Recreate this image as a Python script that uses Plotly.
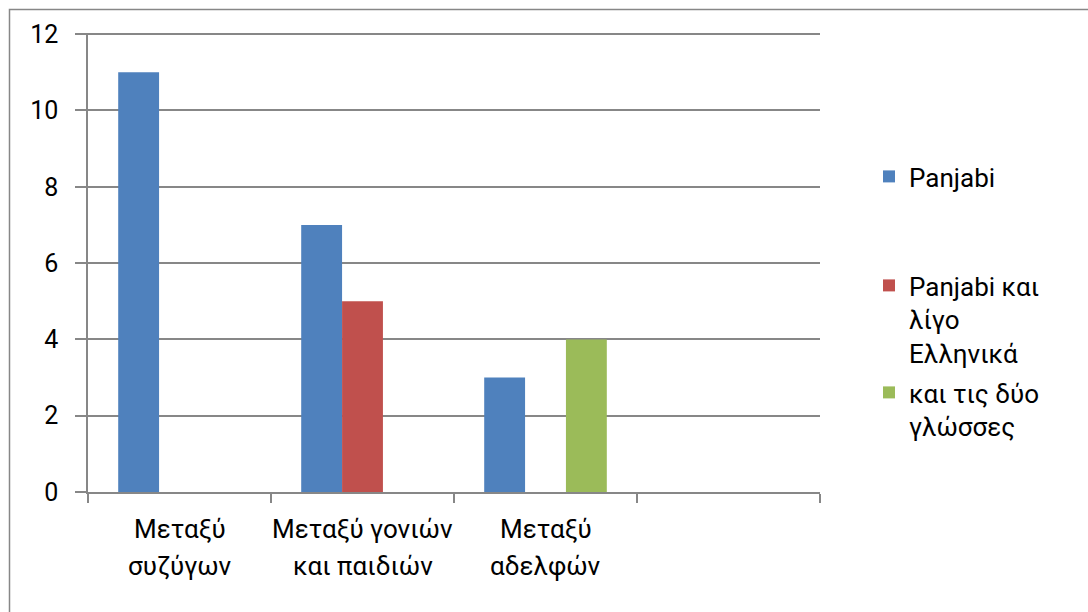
import plotly.graph_objects as go

# Category labels (two lines each); the fourth category is left blank
cat_line1 = ["Μεταξύ", "Μεταξύ γονιών", "Μεταξύ", ""]
cat_line2 = ["συζύγων", "και παιδιών", "αδελφών", ""]
cat_pos = [0, 1, 2, 3]

series_names = ["Panjabi", "Panjabi και<br>λίγο<br>Ελληνικά", "και τις δύο<br>γλώσσες"]
panjabi = [11, 7, 3, None]
panjabi_ligo_ellinika = [None, 5, None, None]
kai_oi_dyo = [None, None, 4, None]

colors = ["#4F81BD", "#C0504D", "#9BBB59"]
grid = "#878787"
FONT = "Roboto"
FS = 26

# plot area in pixels: x 88..820, y 33..492 on a 1088x612 canvas
L, R, T, B = 88, 268, 33, 120
W, H = 1088 - L - R, 612 - T - B


def px_x(px):
    return (px - L) / W


def px_y(py):
    return (612 - B - py) / H


fig = go.Figure()
for name, vals, col, lg in zip(series_names,
                               [panjabi, panjabi_ligo_ellinika, kai_oi_dyo],
                               colors, ["legend", "legend2", "legend3"]):
    fig.add_trace(go.Bar(x=cat_pos, y=vals, name=name, marker_color=col,
                         marker_line_width=0, legend=lg))

legend_common = dict(font=dict(family=FONT, size=FS, color="#000000"),
                     bgcolor="rgba(0,0,0,0)", itemwidth=30, valign="top",
                     xanchor="left", yanchor="top", itemclick=False)

fig.update_layout(
    width=1088, height=612,
    margin=dict(l=L, r=R, t=T, b=B),
    paper_bgcolor="white", plot_bgcolor="white",
    barmode="group", bargap=0.33, bargroupgap=0,
    font=dict(family=FONT, size=FS, color="#000000"),
    legend=dict(x=px_x(869), y=px_y(153), **legend_common),
    legend2=dict(x=px_x(869), y=px_y(262), **legend_common),
    legend3=dict(x=px_x(869), y=px_y(369), **legend_common),
    xaxis=dict(range=[-0.5, 3.5], showticklabels=False, showgrid=False,
               zeroline=False, showline=True, linecolor=grid, linewidth=2,
               ticks="", tickvals=cat_pos,
               minor=dict(tick0=0.5, dtick=1, ticks="outside", ticklen=9,
                          tickcolor=grid, tickwidth=1.5, showgrid=False)),
    yaxis=dict(range=[0, 12.03], dtick=2, tick0=0, showgrid=True, gridcolor=grid,
               gridwidth=2, zeroline=False, showline=True, linecolor=grid,
               linewidth=1.5, ticks="outside", ticklen=11, tickcolor=grid,
               tickwidth=1.5, ticklabelstandoff=12,
               tickfont=dict(family=FONT, size=25, color="#000000")),
    showlegend=True,
)

# two-line category labels under each group
for x, l1, l2 in zip(cat_pos, cat_line1, cat_line2):
    for txt, py in ((l1, 529), (l2, 566)):
        if txt:
            fig.add_annotation(x=x, xref="x", y=px_y(py), yref="paper",
                               text=txt, showarrow=False, yanchor="middle",
                               font=dict(family=FONT, size=FS, color="#000000"))

# outer chart frame
fig.add_shape(type="rect", xref="paper", yref="paper",
              x0=px_x(9.5), x1=px_x(1100), y0=px_y(625), y1=px_y(9.5),
              line=dict(color=grid, width=1.5), fillcolor="rgba(0,0,0,0)",
              layer="below")

fig.write_html("out.html")
